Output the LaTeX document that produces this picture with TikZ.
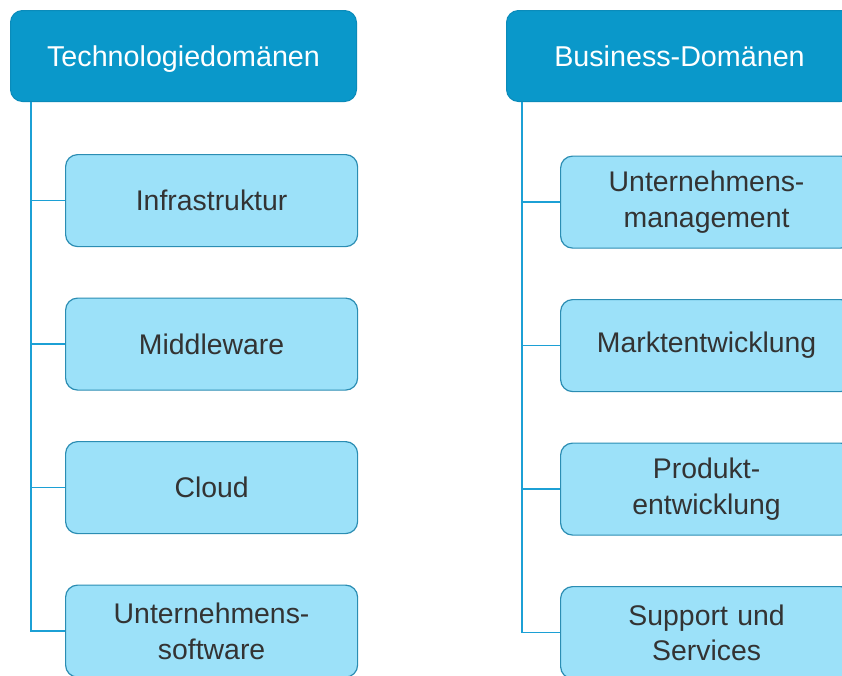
\documentclass[tikz,border=0pt]{standalone}
\usepackage{fontspec}
\setmainfont{Liberation Sans}
\usepackage{xcolor}
\usetikzlibrary{positioning}
\definecolor{HeadBlue}{HTML}{0A98CA}
\definecolor{HeadEdge}{HTML}{0A8BBA}
\definecolor{BoxBlue}{HTML}{9CE1F9}
\definecolor{BoxEdge}{HTML}{2B8DB3}
\definecolor{LineBlue}{HTML}{1CA0D5}
\definecolor{TextGrey}{HTML}{333333}

\tikzset{
  domainhead/.style={draw=HeadEdge, fill=HeadBlue, rounded corners=12pt,
                     line width=1pt, minimum width=346pt, minimum height=91pt,
                     text depth=0pt, text=white,
                     font=\fontsize{28.7}{35}\selectfont, anchor=north west},
  domainbox/.style={draw=BoxEdge, fill=BoxBlue, rounded corners=12pt,
                    line width=1.2pt, minimum width=292pt, minimum height=92pt,
                    text width=270pt, align=center, text=TextGrey,
                    font=\fontsize{28.4}{35.5}\selectfont},
  branch/.style={draw=LineBlue, line width=1.6pt}
}

\begin{document}
\begin{tikzpicture}
\useasboundingbox (0,0) rectangle (842pt,-675pt);
\clip (0,0) rectangle (842pt,-675pt);

% Technologie
\node[domainhead] (tech) at (10pt,-10pt) {Technologiedomänen};
\node[domainbox, below=52pt of tech.south west, anchor=north west, xshift=55pt] (infra) {Infrastruktur};
\node[domainbox, below=50.3pt of infra] (middle) {Middleware};
\node[domainbox, below=50.3pt of middle] (cloud) {Cloud};
\node[domainbox, below=50.3pt of cloud] (software) {Unternehmens-\\software};

\foreach \child in {infra, middle, cloud, software}
  \draw[branch] ([xshift=21pt]tech.south west) |- (\child.west);

% Business
\node[domainhead] (biz) at (506pt,-10pt) {Business-Domänen};
\node[domainbox, below=53.5pt of biz.south west, anchor=north west, xshift=54pt] (mgmt) {Unternehmens-\\management};
\node[domainbox, below=50.3pt of mgmt] (markt) {Marktentwicklung};
\node[domainbox, below=50.3pt of markt] (produkt) {Produkt-\\entwicklung};
\node[domainbox, below=50.3pt of produkt] (support) {Support und\\Services};

\foreach \child in {mgmt, markt, produkt, support}
  \draw[branch] ([xshift=16pt]biz.south west) |- (\child.west);
\end{tikzpicture}
\end{document}
